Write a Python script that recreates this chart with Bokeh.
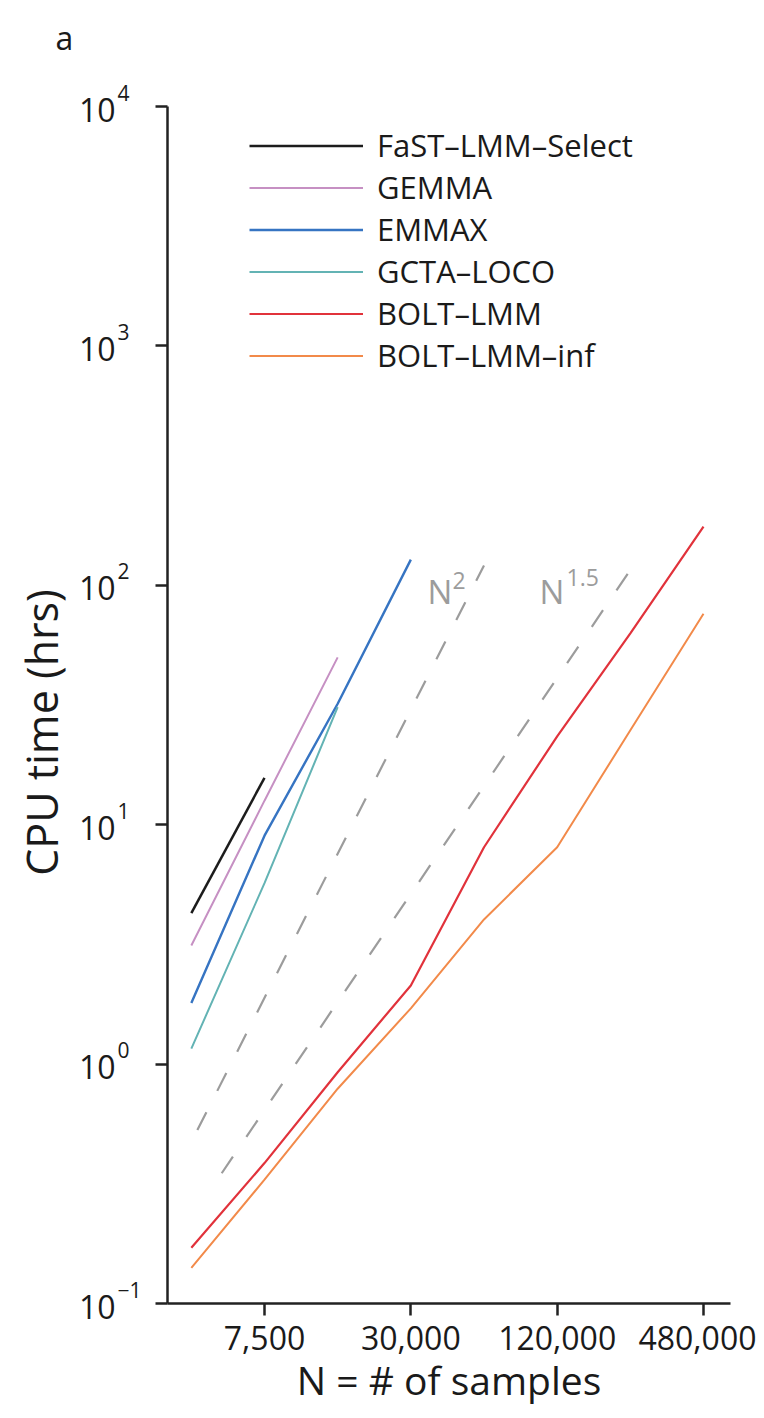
import math
from bokeh.plotting import figure
from bokeh.models import FixedTicker, Label, Legend, LegendItem, Range1d
from bokeh.embed import file_html
from bokeh.resources import INLINE

# ---------------- data ----------------
sample_sizes = [3750, 7500, 15000, 30000, 60000, 120000, 240000, 480000]
fast_lmm_select = [4.27, 15.7]
gemma = [3.13, 12.6, 50.0]
emmax = [1.80, 9.0, 32.0, 128.0]
gcta_loco = [1.16, 5.7, 31.0]
bolt_lmm = [0.171, 0.386, 0.925, 2.13, 8.05, 23.4, 63.0, 176.0]
bolt_lmm_inf = [0.141, 0.329, 0.789, 1.71, 4.02, 8.05, 24.8, 76.0]

n2_ref_N = [3970, 60000]
n2_ref_t = [0.53, 121.0]
n15_ref_N = [5000, 240000]
n15_ref_t = [0.35, 116.0]

series_names = ["FaST–LMM–Select", "GEMMA", "EMMAX", "GCTA–LOCO", "BOLT–LMM", "BOLT–LMM–inf"]
x_ticks = [7500, 30000, 120000, 480000]
x_tick_labels = ["7,500", "30,000", "120,000", "480,000"]
y_ticks = [0.1, 1, 10, 100, 1000, 10000]
y_tick_exponents = ["−1", "0", "1", "2", "3", "4"]

# ---------------- layout (pixels of the picture) ----------------
W, H = 756, 1410
AX_L, AX_R, AX_T, AX_B = 167, 730, 106, 1303      # axes box
X_CAL = ((264, 7500), (703, 480000))               # pixel <-> N calibration
FONT = "Open Sans"
TXT = "#1a1a1a"
GRAY = "#9c9c9c"

_lxa = math.log10(X_CAL[0][1])
_dx = (math.log10(X_CAL[1][1]) - _lxa) / (X_CAL[1][0] - X_CAL[0][0])
_ly_top, _ly_bot = math.log10(y_ticks[-1]), math.log10(y_ticks[0])


def xd(px):
    return 10 ** (_lxa + (px - X_CAL[0][0]) * _dx)


def yd(py):
    return 10 ** (_ly_top - (py - AX_T) / (AX_B - AX_T) * (_ly_top - _ly_bot))


def label(px, py, text, size, color=TXT, align="left", **kw):
    return Label(x=xd(px), y=yd(py), text=text, text_font=FONT, text_font_size=size,
                 text_color=color, text_align=align, text_baseline="middle", **kw)


p = figure(width=W, height=H, x_axis_type="log", y_axis_type="log",
           x_range=Range1d(xd(0), xd(W)), y_range=Range1d(yd(H), yd(0)),
           output_backend="svg", toolbar_location=None,
           min_border_left=0, min_border_right=0, min_border_top=0, min_border_bottom=0)
p.outline_line_color = None
p.grid.visible = False
p.background_fill_color = "white"
p.border_fill_color = "white"

for ax in (p.xaxis[0], p.yaxis[0]):
    ax.axis_line_width = 2.5
    ax.axis_line_color = "#222222"
    ax.major_tick_line_width = 2.5
    ax.major_tick_line_color = "#222222"
    ax.major_tick_out = 12
    ax.major_tick_in = 0
    ax.minor_tick_out = 0
    ax.minor_tick_in = 0
    ax.major_label_text_font = FONT
    ax.major_label_text_color = TXT

xa = p.xaxis[0]
xa.fixed_location = y_ticks[0]
xa.bounds = (xd(AX_L), xd(AX_R))
xa.ticker = FixedTicker(ticks=x_ticks, minor_ticks=[])
xa.major_label_overrides = dict(zip(x_ticks, x_tick_labels))
xa.major_label_text_font_size = "32px"
xa.major_label_standoff = 10

ya = p.yaxis[0]
ya.fixed_location = xd(AX_L)
ya.bounds = (y_ticks[0], y_ticks[-1])
ya.ticker = FixedTicker(ticks=y_ticks, minor_ticks=[])
ya.major_label_overrides = {t: "" for t in y_ticks}

# reference slopes (dashed)
p.line(n2_ref_N, n2_ref_t, line_color=GRAY, line_width=2.2, line_dash="20 24")
p.line(n15_ref_N, n15_ref_t, line_color=GRAY, line_width=2.2, line_dash="20 24")

series = [
    (fast_lmm_select, "#1c1c1c", 2.5),
    (gemma, "#c690c3", 2.0),
    (emmax, "#3674c2", 2.4),
    (gcta_loco, "#63b3b4", 2.0),
    (bolt_lmm, "#e1323b", 2.2),
    (bolt_lmm_inf, "#f28a4a", 2.0),
]
items = []
for name, (vals, col, lw) in zip(series_names, series):
    r = p.line(sample_sizes[:len(vals)], vals, line_color=col, line_width=lw)
    items.append(LegendItem(label=name, renderers=[r]))

legend = Legend(items=items, location=(249, H - 376), orientation="vertical",
                glyph_width=114, glyph_height=41, label_height=41,
                label_standoff=14, spacing=0, padding=0, margin=0,
                border_line_color=None, background_fill_alpha=0,
                label_text_font=FONT, label_text_font_size="31px",
                label_text_color=TXT, label_text_baseline="middle")
p.add_layout(legend)

# y tick labels 10^k (base and raised exponent)
for t, e in zip(y_ticks, y_tick_exponents):
    Lb = Label(x=xd(115), y=t, y_offset=-3, text="10", text_font=FONT,
               text_font_size="32px", text_color=TXT,
               text_align="right", text_baseline="middle")
    Le = Label(x=xd(117), y=t, y_offset=14, text=e, text_font=FONT,
               text_font_size="21px", text_color=TXT,
               text_align="left", text_baseline="middle")
    p.add_layout(Lb)
    p.add_layout(Le)

# slope annotations
p.add_layout(label(427, 591, "N", "33px", GRAY))
p.add_layout(label(452, 580, "2", "23px", GRAY))
p.add_layout(label(539, 591, "N", "33px", GRAY))
p.add_layout(label(566, 577, "1.5", "23px", GRAY))

# axis titles and panel letter
p.add_layout(label(41, 732, "CPU time (hrs)", "43px", align="center", angle=math.pi / 2))
p.add_layout(label(448.5, 1379, "N = # of samples", "39px", align="center"))
p.add_layout(label(55, 37, "a", "32px"))

open("out.html", "w").write(file_html(p, INLINE))
